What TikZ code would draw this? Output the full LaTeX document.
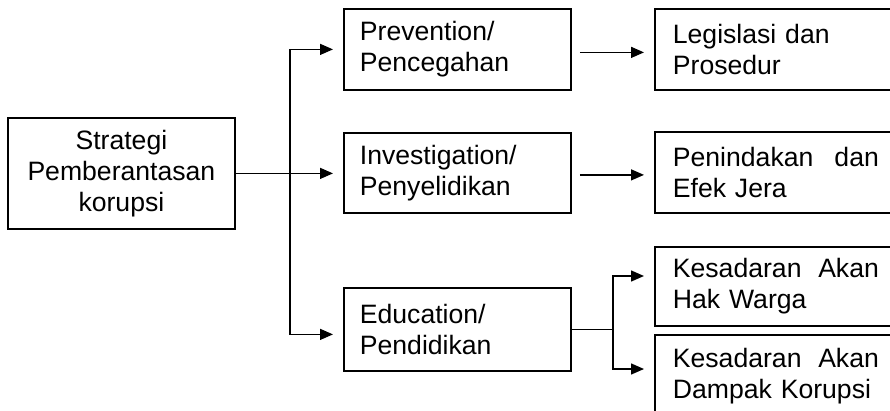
\documentclass[tikz,border=0pt]{standalone}
\usepackage{fontspec}
\setmainfont{Liberation Sans}
\usetikzlibrary{arrows.meta}

\begin{document}
\begin{tikzpicture}[x=1pt, y=-1pt,
		box/.style={draw, line width=1.8pt, anchor=north west, inner ysep=0pt, align=left, font=\fontsize{26.6}{31}\selectfont},
		midbox/.style={box, inner xsep=16pt, text width=195pt, minimum width=227pt},
		endbox/.style={box, inner xsep=18pt, text width=206pt, minimum width=242pt},
		arr/.style={line width=1.4pt, -{Triangle[length=13pt,width=11pt]}}]
		%%%%% START %%%%%
		
		\useasboundingbox (0, 0) rectangle (890, 411);
		\clip (0, 0) rectangle (890, 411);
		
		\node[box, align=center, inner xsep=8pt, text width=211pt, minimum width=227pt, minimum height=111pt] (strategi) at (7, 117) {Strategi\\Pemberantasan\\korupsi};
		
		\node[midbox, minimum height=81pt] (prevention) at (343, 8) {Prevention/\\Pencegahan};
		\node[midbox, minimum height=80pt] (investigation) at (343, 132) {Investigation/\\Penyelidikan};
		\node[midbox, minimum height=83pt] (education) at (343, 287) {Education/\\Pendidikan};
		
		\node[endbox, minimum height=81pt] (legislasi) at (654, 8) {Legislasi dan\\Prosedur};
		\node[endbox, minimum height=81pt] (penindakan) at (654, 131) {Penindakan\hfill dan\\Efek Jera};
		\node[endbox, minimum height=79pt] (hakwarga) at (654, 246) {Kesadaran\hfill Akan\\Hak Warga};
		\node[endbox, minimum height=82pt] (dampak) at (654, 334) {Kesadaran\hfill Akan\\Dampak Korupsi};
		
		% trunk from the strategy box
		\coordinate (trunk) at (290, 0);
		\draw[arr] (strategi.east) -- ([xshift=-10pt]strategi.east -| investigation.west);
		\draw[arr] (trunk |- strategi.east) |- ([xshift=-10pt]prevention.west);
		\draw[arr] (trunk |- strategi.east) |- ([xshift=-10pt, yshift=-5pt]education.west);
		
		\draw[arr] ([xshift=8pt, yshift=-3pt]prevention.east) -- ([xshift=-10pt, yshift=-3pt]legislasi.west);
		\draw[arr] ([xshift=8pt, yshift=-2pt]investigation.east) -- ([xshift=-10pt, yshift=-2pt]investigation.east -| penindakan.west);
		
		% split to the two awareness boxes
		\coordinate (hakin) at (644, 276);
		\coordinate (dampakin) at (644, 369);
		\draw[line width=1.4pt] (education.east) -- ++(41, 0) coordinate (split);
		\draw[arr] (split) |- (hakin);
		\draw[arr] (split) |- (dampakin);
		
		%%%%% END %%%%%
	\end{tikzpicture}
\end{document}
